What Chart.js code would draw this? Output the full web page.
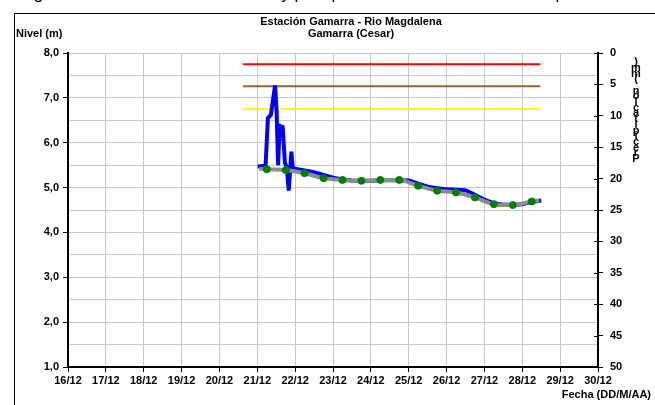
<!DOCTYPE html>
<html>
<head>
<meta charset="utf-8">
<script src="https://cdn.jsdelivr.net/npm/chart.js@4.4.1/dist/chart.umd.min.js"></script>
<style>
  body { margin: 0; background: #fff; }
  #wrap { width: 655px; height: 405px; }
</style>
</head>
<body>
<div id="wrap"><canvas id="plot-data" width="655" height="405"></canvas></div>
<script>
// x values are days counted from 16/12 00:00
var dayLabels = ['16/12', '17/12', '18/12', '19/12', '20/12', '21/12', '22/12', '23/12',
    '24/12', '25/12', '26/12', '27/12', '28/12', '29/12', '30/12'];

// nivel observado (azul)
var blueDays = [5.01, 5.15, 5.22, 5.28, 5.36, 5.47, 5.51, 5.55, 5.59, 5.67, 5.73, 5.78, 5.83, 5.90, 5.94,
    6.0, 6.25, 6.5, 6.75, 7.0, 7.25, 7.5, 8.0, 8.5, 9.0, 9.5, 10.0, 10.25, 10.5, 10.75,
    11.0, 11.25, 11.5, 11.75, 12.0, 12.25, 12.5];
var blueLevels = [5.47, 5.48, 5.50, 6.55, 6.62, 7.28, 6.70, 5.50, 6.38, 6.35, 5.55, 5.45, 4.93, 5.80, 5.40,
    5.42, 5.38, 5.34, 5.28, 5.22, 5.18, 5.16, 5.15, 5.17, 5.16, 5.02, 4.96, 4.95, 4.94, 4.84,
    4.73, 4.65, 4.62, 4.61, 4.63, 4.68, 4.71];

// nivel suavizado (gris)
var greyDays = [5.05, 5.25, 5.75, 6.25, 6.75, 7.25, 7.75, 8.25, 8.75, 9.25, 9.75, 10.25, 10.75,
    11.25, 11.75, 12.25, 12.45];
var greyLevels = [5.42, 5.41, 5.39, 5.32, 5.21, 5.17, 5.15, 5.17, 5.17, 5.04, 4.93, 4.89, 4.78,
    4.63, 4.61, 4.69, 4.71];

// lecturas (puntos verdes)
var obsDays = [5.25, 5.75, 6.25, 6.75, 7.25, 7.75, 8.25, 8.75, 9.25, 9.75, 10.25, 10.75, 11.25, 11.75, 12.25];
var obsLevels = [5.41, 5.39, 5.32, 5.21, 5.17, 5.15, 5.17, 5.17, 5.04, 4.93, 4.89, 4.78, 4.63, 4.61, 4.69];

// umbrales
var alertColors = ['#ff0000', '#996633', '#ffff00'];
var alertLevels = [7.75, 7.26, 6.75];
var alertFrom = 4.62;
var alertTo = 12.48;

var titleLines = ['Estación Gamarra - Rio Magdalena', 'Gamarra (Cesar)'];
var fontFamily = '"Liberation Sans", Arial, sans-serif';

function toPoints(xs, ys) {
    var pts = [];
    for (var i = 0; i < xs.length; i++) {
        pts.push({ x: xs[i], y: ys[i] });
    }
    return pts;
}

var datasets = [];
for (var i = 0; i < alertLevels.length; i++) {
    datasets.push({
        data: toPoints([alertFrom, alertTo], [alertLevels[i], alertLevels[i]]),
        borderColor: alertColors[i],
        borderWidth: 2,
        pointRadius: 0,
        order: 5
    });
}
datasets.push({
    data: toPoints(blueDays, blueLevels),
    borderColor: '#0000ff',
    borderWidth: 4,
    pointRadius: 0,
    order: 3
});
datasets.push({
    data: toPoints(greyDays, greyLevels),
    borderColor: '#8c8c8c',
    borderWidth: 4,
    pointRadius: 0,
    cubicInterpolationMode: 'monotone',
    order: 2
});
datasets.push({
    data: toPoints(obsDays, obsLevels),
    showLine: false,
    pointRadius: 3.5,
    pointBackgroundColor: '#008000',
    pointBorderColor: '#008000',
    order: 1
});

// texto y marco dibujados sobre el canvas
var decoPlugin = {
    id: 'deco',
    afterDraw: function(chart) {
        var c = chart.ctx;
        var a = chart.chartArea;
        c.save();
        // marco
        c.strokeStyle = '#000';
        c.lineWidth = 1;
        c.beginPath();
        c.moveTo(14.5, 405);
        c.lineTo(14.5, 13.5);
        c.lineTo(655, 13.5);
        c.stroke();

        // marcas del eje derecho que cruzan hacia dentro
        var y2 = chart.scales.y2;
        c.lineWidth = 1;
        c.beginPath();
        y2.ticks.forEach(function(t) {
            var py = Math.round(y2.getPixelForValue(t.value)) + 0.5;
            c.moveTo(a.right - 4, py);
            c.lineTo(a.right, py);
        });
        c.stroke();

        // texto cortado arriba
        c.fillStyle = '#000';
        c.font = '17px ' + fontFamily;
        c.textAlign = 'left';
        c.textBaseline = 'alphabetic';
        c.fillText('Registro de observación de niveles y precipitación de la estación en la época', 12, -1);

        c.font = 'bold 11px ' + fontFamily;
        c.textAlign = 'center';
        c.fillText(titleLines[0], 351, 25);
        c.fillText(titleLines[1], 351, 37);

        c.textAlign = 'left';
        c.fillText('Nivel (m)', 16, 37);

        c.textAlign = 'right';
        c.fillText('Fecha (DD/M/AA)', 651, 398);

        // rótulo vertical apilado del eje derecho
        var label = 'Precipitación (mm)';
        c.textAlign = 'center';
        for (var k = 0; k < label.length; k++) {
            c.fillText(label[k], 636, 162 - k * 5.7);
        }
        c.restore();
    }
};

var ctx = document.getElementById('plot-data').getContext('2d');
var graph_data = new Chart(ctx, {
    type: 'line',
    data: { datasets: datasets },
    options: {
        responsive: false,
        animation: false,
        layout: { padding: { top: 53, left: 0, right: 0, bottom: 0 } },
        plugins: {
            legend: { display: false },
            tooltip: { enabled: false }
        },
        scales: {
            x: {
                type: 'linear',
                min: 0,
                max: 14,
                afterFit: function(s) { s.height = 38; },
                grid: { color: '#c8c8c8', lineWidth: 1, tickLength: 5, tickColor: '#000' },
                border: { color: '#000', width: 2 },
                ticks: {
                    stepSize: 1,
                    autoSkip: false,
                    maxRotation: 0,
                    padding: 2,
                    color: '#000',
                    font: { family: fontFamily, size: 11, weight: 'bold' },
                    callback: function(value) { return dayLabels[value]; }
                }
            },
            y: {
                position: 'left',
                min: 1,
                max: 8,
                afterFit: function(s) { s.width = 68; },
                grid: {
                    color: '#c8c8c8',
                    lineWidth: 1,
                    tickLength: 5,
                    tickColor: function(c) {
                        return c.tick && c.tick.value % 1 === 0 ? '#000' : 'rgba(0,0,0,0)';
                    }
                },
                border: { color: '#000', width: 2 },
                ticks: {
                    stepSize: 0.5,
                    autoSkip: false,
                    padding: 4,
                    color: '#000',
                    font: { family: fontFamily, size: 11, weight: 'bold' },
                    callback: function(value) {
                        return value % 1 === 0 ? value.toFixed(1).replace('.', ',') : '';
                    }
                }
            },
            y2: {
                position: 'right',
                min: 0,
                max: 50,
                reverse: true,
                afterFit: function(s) { s.width = 57; },
                grid: { drawOnChartArea: false, tickLength: 5, tickColor: '#000' },
                border: { color: '#000', width: 2 },
                ticks: {
                    stepSize: 5,
                    padding: 7,
                    color: '#000',
                    font: { family: fontFamily, size: 11, weight: 'bold' }
                }
            }
        }
    },
    plugins: [decoPlugin]
});
</script>
</body>
</html>
